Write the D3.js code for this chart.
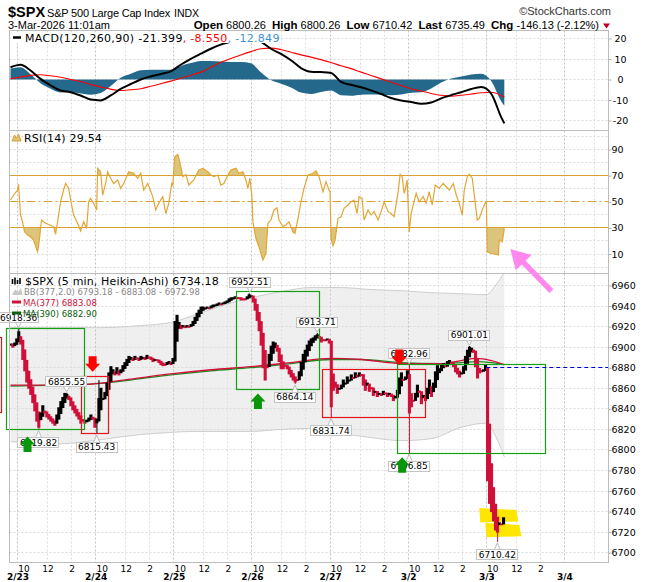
<!DOCTYPE html>
<html>
<head>
<meta charset="utf-8">
<title>$SPX 5 min Heikin-Ashi</title>
<script src="https://cdn.jsdelivr.net/npm/d3@7"></script>
<style>
  body { margin: 0; background: #fff; }
  svg { display: block; }
  .ax text { font-family: "DejaVu Sans", sans-serif; font-size: 9.5px; fill: #000; }
  .ax line { stroke: #b0b0b0; }
  .ax path { display: none; }
</style>
</head>
<body>
<svg id="chart" width="650" height="582"></svg>
<script>
// ---- values ----
var days = ["2/23", "2/24", "2/25", "2/26", "2/27", "3/2", "3/3", "3/4"];
var barsPerDay = 78;              // 5-min bars, 9:30 - 16:00
var gridOffsets = [0, 30, 54];    // open, 12:00, 14:00 (bars after the open)
var hourOffsets = [6, 30, 54];    // 10:00, 12:00, 14:00
var hourLabels = ["10", "12", "2"];
var priceTicks = [6700, 6720, 6740, 6760, 6780, 6800, 6820, 6840, 6860, 6880, 6900, 6920, 6940, 6960];
var macdTicks = [20, 10, 0, -10, -20];
var rsiTicks = [90, 70, 50, 30, 10];

// Heikin-Ashi closes, one per 10 minutes
var close220 = [6903, 6900, 6904, 6908]; // last 40 min of 2/20
var close223 = [6915, 6903, 6888, 6877, 6866, 6860, 6854, 6846, 6838, 6828, 6822, 6836, 6843, 6836, 6832, 6830, 6828, 6826, 6824, 6834, 6841, 6847, 6851, 6855, 6854, 6849, 6843, 6839, 6836, 6833, 6830, 6826, 6828, 6826, 6829, 6831, 6834, 6830, 6822];
var close224 = [6830, 6850, 6860, 6850, 6856, 6865, 6875, 6881, 6878, 6873, 6880, 6873, 6878, 6882, 6885, 6888, 6891, 6890, 6887, 6891, 6889, 6887, 6891, 6890, 6888, 6892, 6890, 6888, 6886, 6888, 6887, 6885, 6883, 6882, 6883, 6885, 6886, 6883, 6889];
var close225 = [6925, 6931, 6924, 6918, 6921, 6919, 6921, 6920, 6922, 6925, 6929, 6933, 6936, 6939, 6939, 6938, 6939, 6938, 6940, 6941, 6941, 6942, 6943, 6942, 6943, 6944, 6945, 6947, 6948, 6948, 6949, 6948, 6948, 6946, 6947, 6947, 6949, 6951, 6950];
var close226 = [6944, 6936, 6926, 6916, 6902, 6880, 6868, 6880, 6893, 6901, 6905, 6904, 6896, 6886, 6879, 6879, 6882, 6879, 6874, 6871, 6868, 6866, 6868, 6876, 6885, 6893, 6897, 6902, 6906, 6908, 6909, 6911, 6912, 6909, 6905, 6907, 6907, 6908, 6904];
var close227 = [6842, 6858, 6861, 6855, 6860, 6863, 6868, 6865, 6871, 6868, 6873, 6870, 6875, 6871, 6875, 6873, 6863, 6858, 6865, 6857, 6860, 6853, 6857, 6852, 6855, 6853, 6857, 6855, 6852, 6855, 6852, 6848, 6852, 6858, 6870, 6875, 6868, 6871, 6877];
var close302 = [6836, 6842, 6848, 6855, 6863, 6856, 6845, 6853, 6848, 6860, 6868, 6852, 6865, 6876, 6882, 6879, 6883, 6884, 6881, 6886, 6887, 6884, 6881, 6876, 6874, 6871, 6875, 6881, 6891, 6897, 6900, 6899, 6895, 6881, 6870, 6875, 6876, 6878, 6883];
var close303 = [6770, 6748, 6740, 6731, 6722, 6720, 6729, 6728, 6734];

// swing highs / lows (bar index from 2/23 9:30)
var extBar = [1, 21, 49, 79, 232, 277, 299, 313, 391, 391, 451, 479];
var extPrice = [6918.36, 6819.82, 6855.55, 6815.43, 6952.51, 6864.14, 6913.71, 6831.74, 6882.96, 6796.85, 6901.01, 6710.42];
var extSide = ["hi", "lo", "hi", "lo", "hi", "lo", "hi", "lo", "hi", "lo", "hi", "lo"];
var wickBar = [81];
var wickPrice = [6868];

// overlays (bars / prices)
var bbBar = [-7, 43, 83, 123, 153, 173, 203, 233, 263, 293, 323, 353, 383, 413, 443, 468, 478, 486];
var bbUpper = [6919, 6919, 6919, 6921, 6924, 6930, 6940, 6948, 6954, 6958, 6958, 6956, 6955, 6953, 6952, 6951, 6961, 6972.98];
var bbLower = [6808, 6806, 6810, 6815, 6817, 6818, 6818, 6818, 6820, 6821, 6816, 6812, 6809, 6811, 6822, 6826, 6812, 6793.18];
var maBar = [-7, 43, 73, 113, 153, 193, 233, 273, 313, 343, 383, 423, 443, 458, 473, 486];
var ma377 = [6863, 6863, 6864, 6869, 6874, 6878, 6881, 6885, 6889, 6888, 6884, 6884, 6887, 6889, 6887, 6883.08];
var ma390 = [6862, 6863, 6864, 6868, 6873, 6877, 6880, 6884, 6888, 6888, 6885, 6884, 6885, 6886, 6885, 6882.90];

// MACD(120,260,90)
var macdBar = [-7, 3, 13, 23, 33, 43, 53, 63, 73, 83, 93, 103, 113, 123, 133, 143, 153, 163, 173, 183, 193, 203, 213, 223, 233, 243, 253, 263, 273, 283, 293, 303, 313, 323, 333, 343, 353, 363, 373, 383, 393, 403, 413, 423, 433, 443, 453, 463, 473, 483, 486];
var macdLine = [6.0, 7.2, 4.4, 0.3, -2.9, -5.4, -6.2, -7.8, -9.8, -10.2, -7.8, -4.6, -2.2, 0.0, 1.5, 2.7, 4.0, 7.2, 10.1, 12.6, 15.0, 17.0, 18.5, 20.5, 21.5, 18.5, 15.0, 12.5, 9.4, 5.6, 3.8, 3.6, 3.2, -1.2, -2.6, -3.8, -5.3, -7.1, -9.0, -10.2, -11.0, -11.8, -11.2, -9.2, -7.6, -6.2, -4.6, -3.7, -7.0, -18.5, -21.399];
var macdSignal = [0.3, 1.2, 2.0, 2.3, 1.8, 1.1, 0.0, -1.0, -2.4, -3.7, -4.7, -5.4, -5.0, -4.5, -3.3, -2.1, -0.8, 0.6, 2.1, 3.6, 6.0, 8.4, 10.2, 12.0, 13.6, 15.0, 15.3, 14.6, 13.3, 12.0, 10.9, 9.7, 8.3, 6.7, 5.3, 3.6, 2.0, 0.3, -1.3, -2.9, -4.5, -5.6, -6.8, -7.7, -8.1, -7.7, -7.1, -6.5, -6.2, -7.8, -8.55];
var macdHist = [5.4, 6.0, 2.6, -1.8, -4.5, -6.3, -6.2, -6.8, -7.4, -6.6, -3.2, 0.8, 2.8, 4.5, 4.8, 4.8, 4.8, 6.6, 8.0, 9.0, 9.0, 8.8, 8.5, 8.5, 7.9, 3.5, -0.3, -2.1, -3.9, -6.4, -7.1, -6.1, -5.4, -7.7, -7.9, -7.4, -7.3, -7.4, -7.7, -7.3, -6.5, -6.2, -4.4, -1.5, 0.5, 1.5, 2.5, 2.8, -0.8, -10.7, -12.849];

// RSI(14)
var rsiBar = [-7, -4, 0, 1, 3, 5, 7, 10, 13, 16, 20, 21, 24, 28, 33, 36, 38, 40, 43, 46, 48, 51, 54, 56, 60, 63, 66, 69, 71, 73, 76, 79, 80, 83, 85, 88, 90, 93, 96, 100, 103, 106, 111, 116, 120, 123, 126, 130, 135, 138, 141, 145, 148, 151, 154, 155, 157, 160, 162, 165, 168, 171, 176, 181, 185, 190, 193, 196, 200, 203, 206, 210, 213, 218, 221, 225, 228, 230, 232, 234, 235, 238, 241, 245, 248, 250, 253, 256, 259, 261, 265, 268, 271, 275, 277, 280, 283, 286, 290, 295, 298, 301, 305, 308, 311, 312, 313, 315, 317, 320, 323, 326, 330, 333, 336, 339, 341, 344, 346, 350, 353, 356, 360, 363, 366, 370, 373, 376, 380, 382, 384, 386, 387, 389, 391, 393, 395, 398, 401, 405, 408, 411, 414, 417, 421, 425, 428, 431, 435, 438, 441, 444, 446, 449, 451, 454, 456, 459, 461, 464, 466, 468, 469, 473, 476, 480, 481, 484, 486];
var rsiVal = [51.3, 55, 59, 63.3, 40, 34.7, 27, 24.5, 23.2, 20.7, 11.7, 15.6, 36, 33.5, 32, 31, 25, 34.7, 50, 59, 64, 60.3, 47.5, 39.8, 33.5, 27.6, 34.7, 29.6, 50, 52.6, 48.8, 43.7, 75.6, 73, 55, 64, 73, 68, 64, 66.7, 60.3, 64, 73, 71.8, 68, 71.8, 59, 64, 53.9, 43.7, 48.8, 53.9, 41, 48.8, 64, 62.7, 84.5, 86.3, 80.7, 69.2, 70.9, 62.8, 66.7, 74.3, 75.6, 73, 70.5, 69.2, 70.5, 62.8, 64, 70.5, 74.3, 75.6, 71.8, 73, 66.7, 60.3, 68, 53.9, 34.7, 22, 15.6, 5.4, 10.5, 33.5, 36, 43.7, 45.4, 36, 31, 32.2, 34.7, 27, 25.8, 37.3, 50, 60.3, 70.5, 71.8, 73.6, 69.2, 57.7, 65.4, 59, 57.7, 22, 16.3, 20.7, 37.3, 38.5, 45, 47.5, 50, 51.3, 41, 53.9, 52.6, 36, 43.7, 39.8, 42.4, 36, 42.4, 50, 42.4, 41, 38.5, 57.7, 71, 69.2, 56.4, 59, 66.7, 27, 41, 47.5, 56.4, 50, 53.9, 48.8, 57.7, 47.5, 62.8, 60.3, 64, 61.5, 59, 64, 55.2, 48.8, 39.8, 59, 69.2, 71, 68, 55.2, 36, 37.3, 43.7, 47.5, 50.6, 11.7, 10.5, 10, 9.2, 20.7, 19.4, 29.54];

// drawn annotations
var boxFrom = [-60, -11, 64, 219, 304, 379];
var boxTo = [-16, 67, 91, 301, 407, 527];
var boxHigh = [6909, 6918.6, 6871, 6953.7, 6877.8, 6882.9];
var boxLow = [6836, 6819.7, 6816, 6858.6, 6831.8, 6796.7];
var boxKind = ["sell", "buy", "sell", "buy", "sell", "buy"];
var upArrowBar = [10, 240, 384];
var upArrowPrice = [6813, 6855, 6793];
var downArrowBar = [75, 381];
var downArrowPrice = [6876, 6882.6];
var levelBar = 468, levelPrice = 6880.3;
var hlFrom = [461, 467], hlTo = [499, 502];
var hlHigh = [6743.5, 6729], hlLow = [6729.5, 6715];
var pinkTail = [533, 6954.5], pinkTip = [492, 6995.5];

var quoteLabels = ["Open", "High", "Low", "Last", "Chg"];
var quoteValues = ["6800.26", "6800.26", "6710.42", "6735.49", "-146.13 (-2.12%)"];

// ---- layout ----
var svg = d3.select("#chart");
var L = 9.5, R = 608.5;
var macdTop = 30.5, macdBot = 130.5, rsiBot = 273.5, pxBot = 562.5;
var red = "#d0103a";
var font = "'DejaVu Sans', Verdana, sans-serif";

var x = d3.scaleLinear().domain([-8, 590]).range([L, R]);
var yM = d3.scaleLinear().domain([-20, 20]).range([120.5, 38.5]);
var yR = d3.scaleLinear().domain([10, 90]).range([254, 149.5]);
var yP = d3.scaleLinear().domain([6700, 6960]).range([552.7, 285.5]);

function crisp(v) { return Math.round(v - 0.5) + 0.5; }

var defs = svg.append("defs");
function clip(id, y0, y1) {
	defs.append("clipPath").attr("id", id).append("rect")
		.attr("x", L).attr("y", y0).attr("width", R - L).attr("height", y1 - y0);
	return "url(#" + id + ")";
}
var clipM = clip("clipM", macdTop, macdBot);
var clipR = clip("clipR", macdBot, rsiBot);
var clipP = clip("clipP", rsiBot, pxBot);
var clipHi = clip("clipHi", macdBot, yR(70));
var clipLo = clip("clipLo", yR(30), rsiBot);

function grid(top, bot, ticks, y) {
	var g = svg.append("g").attr("stroke-dasharray", "2,2");
	ticks.forEach(function (v) {
		var yy = crisp(y(v));
		g.append("line").attr("x1", L).attr("x2", R).attr("y1", yy).attr("y2", yy).attr("stroke", "#dadada");
	});
	days.forEach(function (d, i) {
		gridOffsets.forEach(function (o, j) {
			var xx = crisp(x(i * barsPerDay + o));
			if (xx > R) return;
			g.append("line").attr("x1", xx).attr("x2", xx).attr("y1", top).attr("y2", bot)
				.attr("stroke", j === 0 ? "#c4c4c4" : "#dedede");
		});
	});
}

// ---- MACD panel ----
grid(macdTop, macdBot, macdTicks, yM);
var mi = d3.range(macdBar.length);
var mx = function (i) { return x(macdBar[i]); };
var gm = svg.append("g").attr("clip-path", clipM);
gm.append("path")
	.attr("d", d3.area().x(mx).y0(yM(0)).y1(function (i) { return yM(macdHist[i]); }).curve(d3.curveMonotoneX)(mi))
	.attr("fill", "#24698c");
gm.append("path")
	.attr("d", d3.line().x(mx).y(function (i) { return yM(macdSignal[i]); }).curve(d3.curveMonotoneX)(mi))
	.attr("fill", "none").attr("stroke", "#ff0000").attr("stroke-width", 1.1);
gm.append("path")
	.attr("d", d3.line().x(mx).y(function (i) { return yM(macdLine[i]); }).curve(d3.curveMonotoneX)(mi))
	.attr("fill", "none").attr("stroke", "#000").attr("stroke-width", 2);

// legend
svg.append("rect").attr("x", 11).attr("y", 32).attr("width", 267).attr("height", 11).attr("fill", "#fff");
svg.append("line").attr("x1", 13).attr("x2", 21).attr("y1", 37.5).attr("y2", 37.5).attr("stroke", "#000").attr("stroke-width", 2.5);
var mt = svg.append("text").attr("x", 25).attr("y", 41.5)
	.style("font-family", font).style("font-size", "11px").style("letter-spacing", "0.3px");
mt.append("tspan").text("MACD(120,260,90) -21.399");
mt.append("tspan").attr("fill", "#ff0000").text(", -8.550");
mt.append("tspan").attr("fill", "#3b93d3").text(", -12.849");

// ---- RSI panel ----
grid(macdBot, rsiBot, [0, 10, 20, 40, 60, 80, 90, 100], yR);
var ri = d3.range(rsiBar.length);
var rx = function (i) { return x(rsiBar[i]); };
var ry = function (i) { return yR(rsiVal[i]); };
var gr = svg.append("g").attr("clip-path", clipR);
gr.append("g").attr("clip-path", clipHi).append("path")
	.attr("d", d3.area().x(rx).y0(yR(70)).y1(ry)(ri)).attr("fill", "#dcc47c");
gr.append("g").attr("clip-path", clipLo).append("path")
	.attr("d", d3.area().x(rx).y0(yR(30)).y1(ry)(ri)).attr("fill", "#dcc47c");
[70, 30, 50].forEach(function (v) {
	gr.append("line").attr("x1", L).attr("x2", R).attr("y1", crisp(yR(v))).attr("y2", crisp(yR(v)))
		.attr("stroke", "#d9a030").attr("stroke-width", 1.2)
		.attr("stroke-dasharray", v === 50 ? "9,3,2,3" : null);
});
gr.append("path").attr("d", d3.line().x(rx).y(ry)(ri))
	.attr("fill", "none").attr("stroke", "#e2a634").attr("stroke-width", 1.2);

svg.append("path").attr("d", "M12,141 L14.5,135 L16.5,138 L18.5,134 L21,141 Z")
	.attr("fill", "#dcc47c").attr("stroke", "#d9a030");
svg.append("text").attr("x", 24).attr("y", 141.5)
	.style("font-family", font).style("font-size", "11px").style("letter-spacing", "0.2px")
	.text("RSI(14) 29.54");

// ---- price panel ----
var bi = d3.range(bbBar.length);
var bx = function (i) { return x(bbBar[i]); };
var gp = svg.append("g").attr("clip-path", clipP);
gp.append("path")
	.attr("d", d3.area().x(bx).y0(function (i) { return yP(bbLower[i]); }).y1(function (i) { return yP(bbUpper[i]); }).curve(d3.curveMonotoneX)(bi))
	.attr("fill", "#efefef");
grid(rsiBot, pxBot, priceTicks, yP);
var gp2 = svg.append("g").attr("clip-path", clipP);
[bbUpper, bbLower].forEach(function (arr) {
	gp2.append("path").attr("d", d3.line().x(bx).y(function (i) { return yP(arr[i]); }).curve(d3.curveMonotoneX)(bi))
		.attr("fill", "none").attr("stroke", "#cdcdcd").attr("stroke-width", 1);
});
var ai = d3.range(maBar.length);
var ax = function (i) { return x(maBar[i]); };
gp2.append("path").attr("d", d3.line().x(ax).y(function (i) { return yP(ma390[i]); }).curve(d3.curveMonotoneX)(ai))
	.attr("fill", "none").attr("stroke", "#1e8a1e").attr("stroke-width", 1.3);
gp2.append("path").attr("d", d3.line().x(ax).y(function (i) { return yP(ma377[i]); }).curve(d3.curveMonotoneX)(ai))
	.attr("fill", "none").attr("stroke", red).attr("stroke-width", 1.3);

// yellow highlighter strokes
hlFrom.forEach(function (b0, i) {
	var x0 = x(b0), x1 = x(hlTo[i]), y0 = yP(hlHigh[i]), y1 = yP(hlLow[i]);
	svg.append("path")
		.attr("d", "M" + x0 + "," + y0 + " L" + (x1 - 1) + "," + (y0 + 2) + " L" + (x1 + 1) + "," + (y1 - 1) +
			" L" + (x0 + 1) + "," + y1 + " Z")
		.attr("fill", "#ffe600");
});

// Heikin-Ashi candles
var sessions = [
	{ day: -1, first: 35, closes: close220 },
	{ day: 0, first: 0, closes: close223 },
	{ day: 1, first: 0, closes: close224 },
	{ day: 2, first: 0, closes: close225 },
	{ day: 3, first: 0, closes: close226 },
	{ day: 4, first: 0, closes: close227 },
	{ day: 5, first: 0, closes: close302 },
	{ day: 6, first: 0, closes: close303 }
];
var candles = [];
sessions.forEach(function (s) {
	s.closes.forEach(function (c, k) {
		var p = candles[candles.length - 1];
		candles.push({
			bar: s.day * barsPerDay + 2 * (s.first + k) + 1,
			open: p ? (p.open + p.close) / 2 : c,
			close: c
		});
	});
});
function candleColor(c) { return c.close >= c.open ? "#000" : red; }
var gc = svg.append("g").attr("clip-path", clipP);
gc.selectAll("rect").data(candles).join("rect")
	.attr("x", function (c) { return x(c.bar - 1) - 0.3; })
	.attr("width", function (c) { return x(c.bar + 1) - x(c.bar - 1) + 1.1; })
	.attr("y", function (c) { return yP(Math.max(c.open, c.close)) - 0.5; })
	.attr("height", function (c) { return Math.max(2, Math.abs(yP(c.open) - yP(c.close)) + 1); })
	.attr("fill", candleColor);

function nearest(b) {
	return candles.reduce(function (a, c) { return Math.abs(c.bar - b) < Math.abs(a.bar - b) ? c : a; });
}
extBar.concat(wickBar).forEach(function (b, i) {
	var p = i < extBar.length ? extPrice[i] : wickPrice[i - extBar.length];
	var c = nearest(b);
	var edge = p > Math.max(c.open, c.close) ? Math.max(c.open, c.close) : Math.min(c.open, c.close);
	gc.append("line").attr("x1", x(c.bar) + 0.3).attr("x2", x(c.bar) + 0.3)
		.attr("y1", yP(p)).attr("y2", yP(edge)).attr("stroke", candleColor(c)).attr("stroke-width", 1);
});

// drawn boxes
boxFrom.forEach(function (b0, i) {
	var x0 = crisp(x(b0)), x1 = crisp(x(boxTo[i])), y0 = crisp(yP(boxHigh[i])), y1 = crisp(yP(boxLow[i]));
	svg.append("rect").attr("x", x0).attr("y", y0).attr("width", x1 - x0).attr("height", y1 - y0)
		.attr("fill", "none").attr("stroke", boxKind[i] === "buy" ? "#15a015" : "#e8141c").attr("stroke-width", 1.2);
});

// level line
svg.append("line").attr("x1", x(levelBar)).attr("x2", R)
	.attr("y1", crisp(yP(levelPrice))).attr("y2", crisp(yP(levelPrice)))
	.attr("stroke", "#0000cc").attr("stroke-dasharray", "4,3").attr("stroke-width", 1);

// high / low value labels
var lg = svg.append("g");
extBar.forEach(function (b, i) {
	var cx = x(b), py = yP(extPrice[i]), hi = extSide[i] === "hi";
	var t = lg.append("text").attr("x", cx).attr("text-anchor", "middle")
		.style("font-family", font).style("font-size", "9px").text(d3.format(".2f")(extPrice[i]));
	var w = t.node().getComputedTextLength() + 4, h = 10;
	var top = hi ? py - 6 - h : py + 8;
	t.attr("y", top + 8.3);
	var edgeY = hi ? top + h : top;
	lg.insert("path", function () { return t.node(); })
		.attr("d", "M" + (cx - 3) + "," + edgeY + " L" + cx + "," + (hi ? py - 1 : py + 1) + " L" + (cx + 3) + "," + edgeY)
		.attr("fill", "#fff").attr("stroke", "#bbb");
	lg.insert("rect", function () { return t.node(); })
		.attr("x", crisp(cx - w / 2)).attr("y", crisp(top)).attr("width", Math.round(w)).attr("height", h)
		.attr("fill", "#fff").attr("stroke", "#c4c4c4");
});

// block arrows
function blockArrow(cx, tipY, dir, color) {
	var hw = 7.5, sw = 4, hh = 8, sh = 7.5;
	var base = tipY - dir * hh, end = base - dir * sh;
	var pts = [[cx, tipY], [cx + hw, base], [cx + sw, base], [cx + sw, end], [cx - sw, end], [cx - sw, base], [cx - hw, base]];
	svg.append("path").attr("d", d3.line()(pts) + "Z").attr("fill", color);
}
upArrowBar.forEach(function (b, i) { blockArrow(x(b), yP(upArrowPrice[i]), -1, "#0a960a"); });
downArrowBar.forEach(function (b, i) { blockArrow(x(b), yP(downArrowPrice[i]), 1, "#ff0000"); });

// price legend
svg.append("path").attr("d", "M12.5,279v5 M15,277.5v7 M17.5,280v4 M20,278v6").attr("stroke", "#000").attr("stroke-width", 1.6);
svg.append("text").attr("x", 25).attr("y", 285)
	.style("font-family", font).style("font-size", "11px").style("letter-spacing", "0.15px")
	.text("$SPX (5 min, Heikin-Ashi) 6734.18");
svg.append("path").attr("d", "M12,295 L15,289.5 L18,292 L21,288 L22.5,295 Z").attr("fill", "#c8c8c8");
svg.append("text").attr("x", 24).attr("y", 295)
	.style("font-family", font).style("font-size", "8.5px").attr("fill", "#888")
	.text("BB(377,2.0) 6793.18 - 6883.08 - 6972.98");
svg.append("line").attr("x1", 12).attr("x2", 21).attr("y1", 302).attr("y2", 302).attr("stroke", red).attr("stroke-width", 3);
svg.append("text").attr("x", 23).attr("y", 305.8)
	.style("font-family", font).style("font-size", "8.5px").attr("fill", red).text("MA(377) 6883.08");
svg.append("line").attr("x1", 12).attr("x2", 21).attr("y1", 313).attr("y2", 313).attr("stroke", "#0b5e0b").attr("stroke-width", 3);
svg.append("text").attr("x", 23).attr("y", 317)
	.style("font-family", font).style("font-size", "8.5px").attr("fill", "#0b5e0b").text("MA(390) 6882.90");

// panel frames
[[macdTop, macdBot], [macdBot, rsiBot], [rsiBot, pxBot]].forEach(function (p) {
	svg.append("rect").attr("x", L).attr("y", p[0]).attr("width", R - L).attr("height", p[1] - p[0])
		.attr("fill", "none").attr("stroke", "#bcbcbc");
});

// ---- axes ----
svg.append("g").attr("class", "ax").attr("transform", "translate(" + R + ",0)")
	.call(d3.axisRight(yM).tickValues(macdTicks).tickSize(3).tickFormat(String))
	.selectAll("text").attr("text-anchor", "middle").attr("x", 12);
svg.append("g").attr("class", "ax").attr("transform", "translate(" + R + ",0)")
	.call(d3.axisRight(yR).tickValues(rsiTicks).tickSize(3).tickPadding(0).tickFormat(String));
svg.append("g").attr("class", "ax").attr("transform", "translate(" + R + ",0)")
	.call(d3.axisRight(yP).tickValues(priceTicks).tickSize(3).tickPadding(0).tickFormat(String));

var hourTicks = [];
days.slice(0, 7).forEach(function (d, i) {
	hourOffsets.forEach(function (o) { hourTicks.push(i * barsPerDay + o); });
});
var xa = svg.append("g").attr("class", "ax").attr("transform", "translate(0," + pxBot + ")")
	.call(d3.axisBottom(x).tickValues(hourTicks).tickSize(0).tickPadding(3.2)
		.tickFormat(function (b) { return hourLabels[hourOffsets.indexOf(b % barsPerDay)]; }));
xa.selectAll("text").style("font-size", "9px");
var xd = svg.append("g").attr("class", "ax").attr("transform", "translate(0," + pxBot + ")")
	.call(d3.axisBottom(x).tickValues(days.map(function (d, i) { return i * barsPerDay; })).tickSize(0).tickPadding(11.6)
		.tickFormat(function (b) { return days[b / barsPerDay]; }));
xd.selectAll("text").style("font-size", "9px").style("font-weight", "bold");

// ---- pink arrow ----
(function () {
	var t0 = [x(pinkTail[0]), yP(pinkTail[1])], t1 = [x(pinkTip[0]), yP(pinkTip[1])];
	var dx = t1[0] - t0[0], dy = t1[1] - t0[1], len = Math.sqrt(dx * dx + dy * dy);
	var ux = dx / len, uy = dy / len, hl = 19, hw = 11;
	var b = [t1[0] - ux * hl, t1[1] - uy * hl];
	svg.append("line").attr("x1", t0[0]).attr("y1", t0[1]).attr("x2", b[0] + ux * 2).attr("y2", b[1] + uy * 2)
		.attr("stroke", "#ff88ee").attr("stroke-width", 5.5);
	svg.append("path").attr("d", d3.line()([t1, [b[0] - uy * hw, b[1] + ux * hw], [b[0] + uy * hw, b[1] - ux * hw]]) + "Z")
		.attr("fill", "#ff88ee");
})();

// ---- header ----
var hf = "'Liberation Sans', Arial, sans-serif";
svg.append("text").attr("x", 8).attr("y", 17).style("font-family", hf).style("font-weight", "bold").style("font-size", "14.5px").text("$SPX");
svg.append("text").attr("x", 47).attr("y", 16.5).style("font-family", hf).style("font-size", "11px").style("letter-spacing", "-0.2px").text("S&P 500 Large Cap Index");
svg.append("text").attr("x", 174).attr("y", 16.5).style("font-family", hf).style("font-size", "10.5px").text("INDX");
svg.append("text").attr("x", 611).attr("y", 15).attr("text-anchor", "end").style("font-family", hf).style("font-size", "11px").attr("fill", "#333").text("\u00a9StockCharts.com");
svg.append("text").attr("x", 8).attr("y", 28.5).style("font-family", hf).style("font-size", "11px").text("3-Mar-2026 11:01am");
var q = svg.append("text").attr("x", 599).attr("y", 28.5).attr("text-anchor", "end")
	.style("font-family", hf).style("font-size", "11px").style("white-space", "pre");
quoteLabels.forEach(function (lab, i) {
	q.append("tspan").style("font-weight", "bold").style("font-size", "11.5px").text(lab);
	q.append("tspan").text(" " + quoteValues[i] + (i < quoteLabels.length - 1 ? "  " : ""));
});
svg.append("path").attr("d", "M603,23.5 L610,23.5 L606.5,28.5 Z").attr("fill", "#c00020");
</script>
</body>
</html>
